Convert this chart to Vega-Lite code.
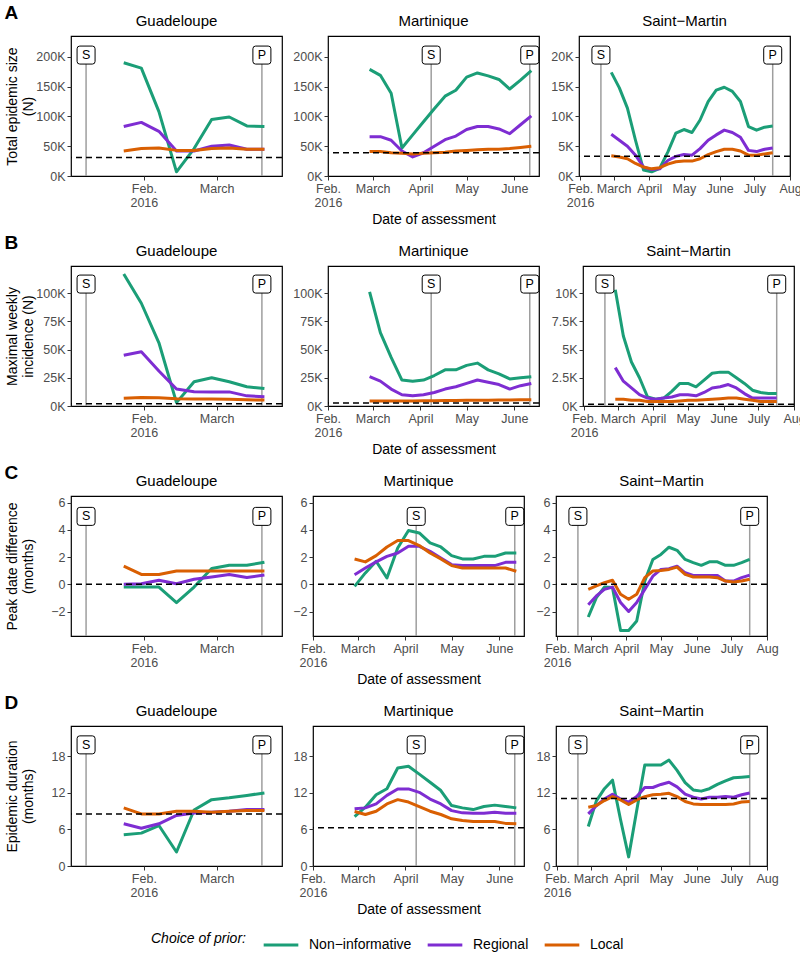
{
  "$schema": "https://vega.github.io/schema/vega-lite/v6.json",
  "padding": {"left": 4, "top": 4, "right": 0, "bottom": 38},
  "datasets": {
    "series": [
      {"m":"A","r":"G","d":"2016-01-24","N":190000,"R":83000,"L":42000},
      {"m":"A","r":"G","d":"2016-01-31","N":181000,"R":90000,"L":46000},
      {"m":"A","r":"G","d":"2016-02-07","N":108000,"R":75000,"L":47000},
      {"m":"A","r":"G","d":"2016-02-14","N":7000,"R":42000,"L":43000},
      {"m":"A","r":"G","d":"2016-02-21","N":46000,"R":42000,"L":43000},
      {"m":"A","r":"G","d":"2016-02-28","N":95000,"R":50000,"L":46000},
      {"m":"A","r":"G","d":"2016-03-06","N":99000,"R":52000,"L":47000},
      {"m":"A","r":"G","d":"2016-03-13","N":84000,"R":45000,"L":45000},
      {"m":"A","r":"G","d":"2016-03-20","N":83000,"R":45000,"L":45000},
      {"m":"A","r":"M","d":"2016-02-28","N":179000,"R":66000,"L":41000},
      {"m":"A","r":"M","d":"2016-03-06","N":169000,"R":66000,"L":41000},
      {"m":"A","r":"M","d":"2016-03-13","N":139000,"R":60000,"L":39000},
      {"m":"A","r":"M","d":"2016-03-20","N":47000,"R":42000,"L":38000},
      {"m":"A","r":"M","d":"2016-03-27","N":69000,"R":32000,"L":37000},
      {"m":"A","r":"M","d":"2016-04-03","N":91000,"R":39000,"L":38000},
      {"m":"A","r":"M","d":"2016-04-10","N":113000,"R":50000,"L":39000},
      {"m":"A","r":"M","d":"2016-04-17","N":134000,"R":61000,"L":40000},
      {"m":"A","r":"M","d":"2016-04-24","N":144000,"R":67000,"L":42000},
      {"m":"A","r":"M","d":"2016-05-01","N":166000,"R":78000,"L":43000},
      {"m":"A","r":"M","d":"2016-05-08","N":173000,"R":83000,"L":44000},
      {"m":"A","r":"M","d":"2016-05-15","N":168000,"R":83000,"L":45000},
      {"m":"A","r":"M","d":"2016-05-22","N":162000,"R":79000,"L":45000},
      {"m":"A","r":"M","d":"2016-05-29","N":146000,"R":71000,"L":46000},
      {"m":"A","r":"M","d":"2016-06-05","N":161000,"R":86000,"L":48000},
      {"m":"A","r":"M","d":"2016-06-12","N":177000,"R":101000,"L":50000},
      {"m":"A","r":"S","d":"2016-02-28","N":17400,"R":7000,"L":3400},
      {"m":"A","r":"S","d":"2016-03-06","N":14800,"R":6000,"L":3200},
      {"m":"A","r":"S","d":"2016-03-13","N":11400,"R":5000,"L":2900},
      {"m":"A","r":"S","d":"2016-03-20","N":6000,"R":3500,"L":2100},
      {"m":"A","r":"S","d":"2016-03-27","N":1000,"R":1500,"L":1500},
      {"m":"A","r":"S","d":"2016-04-03","N":700,"R":1100,"L":1200},
      {"m":"A","r":"S","d":"2016-04-10","N":1300,"R":1200,"L":1400},
      {"m":"A","r":"S","d":"2016-04-17","N":4000,"R":2600,"L":2000},
      {"m":"A","r":"S","d":"2016-04-24","N":7200,"R":3300,"L":2400},
      {"m":"A","r":"S","d":"2016-05-01","N":7800,"R":3600,"L":2500},
      {"m":"A","r":"S","d":"2016-05-08","N":7300,"R":3500,"L":2500},
      {"m":"A","r":"S","d":"2016-05-15","N":9400,"R":4600,"L":2900},
      {"m":"A","r":"S","d":"2016-05-22","N":12500,"R":6000,"L":3600},
      {"m":"A","r":"S","d":"2016-05-29","N":14400,"R":6900,"L":4100},
      {"m":"A","r":"S","d":"2016-06-05","N":14900,"R":7700,"L":4500},
      {"m":"A","r":"S","d":"2016-06-12","N":14200,"R":7300,"L":4500},
      {"m":"A","r":"S","d":"2016-06-19","N":12500,"R":6500,"L":4200},
      {"m":"A","r":"S","d":"2016-06-26","N":8300,"R":4300,"L":3500},
      {"m":"A","r":"S","d":"2016-07-03","N":7700,"R":4100,"L":3500},
      {"m":"A","r":"S","d":"2016-07-10","N":8200,"R":4500,"L":3700},
      {"m":"A","r":"S","d":"2016-07-17","N":8400,"R":4700,"L":3900},
      {"m":"B","r":"G","d":"2016-01-24","N":117000,"R":45000,"L":6800},
      {"m":"B","r":"G","d":"2016-01-31","N":91000,"R":48000,"L":7500},
      {"m":"B","r":"G","d":"2016-02-07","N":56000,"R":31000,"L":7200},
      {"m":"B","r":"G","d":"2016-02-14","N":3000,"R":15000,"L":6500},
      {"m":"B","r":"G","d":"2016-02-21","N":21500,"R":12700,"L":6200},
      {"m":"B","r":"G","d":"2016-02-28","N":25000,"R":12500,"L":6200},
      {"m":"B","r":"G","d":"2016-03-06","N":21500,"R":12500,"L":6000},
      {"m":"B","r":"G","d":"2016-03-13","N":17000,"R":9000,"L":5500},
      {"m":"B","r":"G","d":"2016-03-20","N":15500,"R":8300,"L":5300},
      {"m":"B","r":"M","d":"2016-02-28","N":101000,"R":26000,"L":4400},
      {"m":"B","r":"M","d":"2016-03-06","N":65000,"R":22000,"L":4400},
      {"m":"B","r":"M","d":"2016-03-13","N":43000,"R":15000,"L":4500},
      {"m":"B","r":"M","d":"2016-03-20","N":23000,"R":10000,"L":4500},
      {"m":"B","r":"M","d":"2016-03-27","N":22000,"R":9000,"L":4500},
      {"m":"B","r":"M","d":"2016-04-03","N":23000,"R":10000,"L":4600},
      {"m":"B","r":"M","d":"2016-04-10","N":27000,"R":12000,"L":4700},
      {"m":"B","r":"M","d":"2016-04-17","N":32000,"R":15000,"L":4800},
      {"m":"B","r":"M","d":"2016-04-24","N":32000,"R":17000,"L":4900},
      {"m":"B","r":"M","d":"2016-05-01","N":36000,"R":20000,"L":5000},
      {"m":"B","r":"M","d":"2016-05-08","N":38000,"R":23000,"L":5100},
      {"m":"B","r":"M","d":"2016-05-15","N":32000,"R":21000,"L":5200},
      {"m":"B","r":"M","d":"2016-05-22","N":28500,"R":19000,"L":5300},
      {"m":"B","r":"M","d":"2016-05-29","N":24000,"R":15000,"L":5400},
      {"m":"B","r":"M","d":"2016-06-05","N":25000,"R":18000,"L":5500},
      {"m":"B","r":"M","d":"2016-06-12","N":26000,"R":20000,"L":5600},
      {"m":"B","r":"S","d":"2016-02-28","N":10300,"R":3400,"L":600},
      {"m":"B","r":"S","d":"2016-03-06","N":6200,"R":2200,"L":600},
      {"m":"B","r":"S","d":"2016-03-13","N":3900,"R":1600,"L":500},
      {"m":"B","r":"S","d":"2016-03-20","N":2500,"R":1000,"L":500},
      {"m":"B","r":"S","d":"2016-03-27","N":800,"R":700,"L":400},
      {"m":"B","r":"S","d":"2016-04-03","N":600,"R":600,"L":400},
      {"m":"B","r":"S","d":"2016-04-10","N":700,"R":700,"L":400},
      {"m":"B","r":"S","d":"2016-04-17","N":1300,"R":800,"L":400},
      {"m":"B","r":"S","d":"2016-04-24","N":2000,"R":1000,"L":450},
      {"m":"B","r":"S","d":"2016-05-01","N":2000,"R":1000,"L":500},
      {"m":"B","r":"S","d":"2016-05-08","N":1700,"R":900,"L":500},
      {"m":"B","r":"S","d":"2016-05-15","N":2300,"R":1200,"L":550},
      {"m":"B","r":"S","d":"2016-05-22","N":2900,"R":1600,"L":600},
      {"m":"B","r":"S","d":"2016-05-29","N":3000,"R":1700,"L":650},
      {"m":"B","r":"S","d":"2016-06-05","N":3000,"R":1900,"L":700},
      {"m":"B","r":"S","d":"2016-06-12","N":2500,"R":1600,"L":700},
      {"m":"B","r":"S","d":"2016-06-19","N":2000,"R":1100,"L":600},
      {"m":"B","r":"S","d":"2016-06-26","N":1400,"R":700,"L":500},
      {"m":"B","r":"S","d":"2016-07-03","N":1200,"R":700,"L":400},
      {"m":"B","r":"S","d":"2016-07-10","N":1100,"R":700,"L":400},
      {"m":"B","r":"S","d":"2016-07-17","N":1100,"R":700,"L":400},
      {"m":"C","r":"G","d":"2016-01-24","N":-0.2,"R":0,"L":1.34},
      {"m":"C","r":"G","d":"2016-01-31","N":-0.2,"R":0.05,"L":0.73},
      {"m":"C","r":"G","d":"2016-02-07","N":-0.2,"R":0.3,"L":0.73},
      {"m":"C","r":"G","d":"2016-02-14","N":-1.35,"R":0.05,"L":0.98},
      {"m":"C","r":"G","d":"2016-02-21","N":-0.2,"R":0.37,"L":0.98},
      {"m":"C","r":"G","d":"2016-02-28","N":1.17,"R":0.54,"L":0.98},
      {"m":"C","r":"G","d":"2016-03-06","N":1.4,"R":0.73,"L":0.98},
      {"m":"C","r":"G","d":"2016-03-13","N":1.4,"R":0.5,"L":0.98},
      {"m":"C","r":"G","d":"2016-03-20","N":1.63,"R":0.68,"L":0.98},
      {"m":"C","r":"M","d":"2016-02-28","N":-0.15,"R":0.71,"L":1.87},
      {"m":"C","r":"M","d":"2016-03-06","N":0.84,"R":1.2,"L":1.65},
      {"m":"C","r":"M","d":"2016-03-13","N":1.7,"R":1.65,"L":2.11},
      {"m":"C","r":"M","d":"2016-03-20","N":0.47,"R":2.06,"L":2.75},
      {"m":"C","r":"M","d":"2016-03-27","N":2.68,"R":2.31,"L":3.22},
      {"m":"C","r":"M","d":"2016-04-03","N":3.96,"R":2.8,"L":3.22},
      {"m":"C","r":"M","d":"2016-04-10","N":3.78,"R":2.8,"L":2.85},
      {"m":"C","r":"M","d":"2016-04-17","N":3.05,"R":2.43,"L":2.31},
      {"m":"C","r":"M","d":"2016-04-24","N":2.75,"R":1.94,"L":1.87},
      {"m":"C","r":"M","d":"2016-05-01","N":2.11,"R":1.45,"L":1.38},
      {"m":"C","r":"M","d":"2016-05-08","N":1.87,"R":1.38,"L":1.2},
      {"m":"C","r":"M","d":"2016-05-15","N":1.87,"R":1.38,"L":1.2},
      {"m":"C","r":"M","d":"2016-05-22","N":2.06,"R":1.38,"L":1.2},
      {"m":"C","r":"M","d":"2016-05-29","N":2.06,"R":1.38,"L":1.2},
      {"m":"C","r":"M","d":"2016-06-05","N":2.31,"R":1.62,"L":1.2},
      {"m":"C","r":"M","d":"2016-06-12","N":2.31,"R":1.62,"L":0.96},
      {"m":"C","r":"S","d":"2016-02-28","N":-2.4,"R":-1.5,"L":-0.37},
      {"m":"C","r":"S","d":"2016-03-06","N":-0.98,"R":-0.85,"L":-0.12},
      {"m":"C","r":"S","d":"2016-03-13","N":-0.2,"R":-0.37,"L":0.12},
      {"m":"C","r":"S","d":"2016-03-20","N":-0.24,"R":-0.2,"L":0.3},
      {"m":"C","r":"S","d":"2016-03-27","N":-3.4,"R":-1.34,"L":-0.73},
      {"m":"C","r":"S","d":"2016-04-03","N":-3.4,"R":-2.0,"L":-1.1},
      {"m":"C","r":"S","d":"2016-04-10","N":-2.7,"R":-1.34,"L":-0.73},
      {"m":"C","r":"S","d":"2016-04-17","N":0.24,"R":-0.37,"L":0.49},
      {"m":"C","r":"S","d":"2016-04-24","N":1.83,"R":0.6,"L":0.98},
      {"m":"C","r":"S","d":"2016-05-01","N":2.2,"R":1.1,"L":1.02},
      {"m":"C","r":"S","d":"2016-05-08","N":2.73,"R":1.15,"L":1.1},
      {"m":"C","r":"S","d":"2016-05-15","N":2.5,"R":1.34,"L":1.27},
      {"m":"C","r":"S","d":"2016-05-22","N":1.83,"R":0.85,"L":0.73},
      {"m":"C","r":"S","d":"2016-05-29","N":1.6,"R":0.66,"L":0.54},
      {"m":"C","r":"S","d":"2016-06-05","N":1.4,"R":0.66,"L":0.54},
      {"m":"C","r":"S","d":"2016-06-12","N":1.66,"R":0.66,"L":0.54},
      {"m":"C","r":"S","d":"2016-06-19","N":1.66,"R":0.66,"L":0.49},
      {"m":"C","r":"S","d":"2016-06-26","N":1.4,"R":0.24,"L":0.24},
      {"m":"C","r":"S","d":"2016-07-03","N":1.4,"R":0.24,"L":0.17},
      {"m":"C","r":"S","d":"2016-07-10","N":1.6,"R":0.49,"L":0.24},
      {"m":"C","r":"S","d":"2016-07-17","N":1.83,"R":0.68,"L":0.37},
      {"m":"D","r":"G","d":"2016-01-24","N":5.13,"R":6.93,"L":9.55},
      {"m":"D","r":"G","d":"2016-01-31","N":5.4,"R":6.2,"L":8.56},
      {"m":"D","r":"G","d":"2016-02-07","N":6.65,"R":6.93,"L":8.56},
      {"m":"D","r":"G","d":"2016-02-14","N":2.3,"R":8.3,"L":9.0},
      {"m":"D","r":"G","d":"2016-02-21","N":9.2,"R":8.7,"L":9.0},
      {"m":"D","r":"G","d":"2016-02-28","N":10.9,"R":8.84,"L":8.84},
      {"m":"D","r":"G","d":"2016-03-06","N":11.2,"R":9.0,"L":9.0},
      {"m":"D","r":"G","d":"2016-03-13","N":11.6,"R":9.27,"L":9.1},
      {"m":"D","r":"G","d":"2016-03-20","N":12.0,"R":9.27,"L":9.1},
      {"m":"D","r":"M","d":"2016-02-28","N":8.13,"R":9.4,"L":8.95},
      {"m":"D","r":"M","d":"2016-03-06","N":9.66,"R":9.55,"L":8.46},
      {"m":"D","r":"M","d":"2016-03-13","N":11.7,"R":10.2,"L":9.0},
      {"m":"D","r":"M","d":"2016-03-20","N":12.7,"R":11.6,"L":10.2},
      {"m":"D","r":"M","d":"2016-03-27","N":16.1,"R":12.66,"L":10.9},
      {"m":"D","r":"M","d":"2016-04-03","N":16.4,"R":12.66,"L":10.5},
      {"m":"D","r":"M","d":"2016-04-10","N":15.1,"R":12.1,"L":9.77},
      {"m":"D","r":"M","d":"2016-04-17","N":13.75,"R":11.0,"L":9.0},
      {"m":"D","r":"M","d":"2016-04-24","N":12.4,"R":10.2,"L":8.46},
      {"m":"D","r":"M","d":"2016-05-01","N":9.93,"R":9.1,"L":7.75},
      {"m":"D","r":"M","d":"2016-05-08","N":9.55,"R":8.73,"L":7.47},
      {"m":"D","r":"M","d":"2016-05-15","N":9.27,"R":8.67,"L":7.3},
      {"m":"D","r":"M","d":"2016-05-22","N":9.77,"R":8.67,"L":7.3},
      {"m":"D","r":"M","d":"2016-05-29","N":10.0,"R":8.84,"L":7.3},
      {"m":"D","r":"M","d":"2016-06-05","N":9.77,"R":8.67,"L":7.0},
      {"m":"D","r":"M","d":"2016-06-12","N":9.55,"R":8.67,"L":6.93},
      {"m":"D","r":"S","d":"2016-02-28","N":6.5,"R":8.56,"L":9.66},
      {"m":"D","r":"S","d":"2016-03-06","N":10.7,"R":9.9,"L":9.93},
      {"m":"D","r":"S","d":"2016-03-13","N":12.7,"R":11.0,"L":10.75},
      {"m":"D","r":"S","d":"2016-03-20","N":14.1,"R":11.8,"L":11.4},
      {"m":"D","r":"S","d":"2016-03-27","N":7.6,"R":11.0,"L":10.85},
      {"m":"D","r":"S","d":"2016-04-03","N":1.5,"R":10.5,"L":10.1},
      {"m":"D","r":"S","d":"2016-04-10","N":9.1,"R":11.4,"L":10.85},
      {"m":"D","r":"S","d":"2016-04-17","N":16.6,"R":12.9,"L":11.4},
      {"m":"D","r":"S","d":"2016-04-24","N":16.6,"R":12.9,"L":11.7},
      {"m":"D","r":"S","d":"2016-05-01","N":16.6,"R":13.4,"L":11.8},
      {"m":"D","r":"S","d":"2016-05-08","N":17.4,"R":13.75,"L":11.95},
      {"m":"D","r":"S","d":"2016-05-15","N":15.7,"R":13.0,"L":11.4},
      {"m":"D","r":"S","d":"2016-05-22","N":13.7,"R":11.8,"L":10.6},
      {"m":"D","r":"S","d":"2016-05-29","N":12.5,"R":11.3,"L":10.2},
      {"m":"D","r":"S","d":"2016-06-05","N":12.3,"R":11.0,"L":10.1},
      {"m":"D","r":"S","d":"2016-06-12","N":12.7,"R":11.3,"L":10.1},
      {"m":"D","r":"S","d":"2016-06-19","N":13.4,"R":11.3,"L":10.1},
      {"m":"D","r":"S","d":"2016-06-26","N":14.0,"R":11.4,"L":10.1},
      {"m":"D","r":"S","d":"2016-07-03","N":14.5,"R":11.3,"L":10.2},
      {"m":"D","r":"S","d":"2016-07-10","N":14.6,"R":11.7,"L":10.5},
      {"m":"D","r":"S","d":"2016-07-17","N":14.7,"R":12.0,"L":10.6}
    ],
    "refs": [
      {"m":"A","r":"G","v":31000},{"m":"A","r":"M","v":39000},{"m":"A","r":"S","v":3300},
      {"m":"B","r":"G","v":2000},{"m":"B","r":"M","v":2600},{"m":"B","r":"S","v":150},
      {"m":"C","r":"G","v":0},{"m":"C","r":"M","v":0},{"m":"C","r":"S","v":0},
      {"m":"D","r":"G","v":8.56},{"m":"D","r":"M","v":6.27},{"m":"D","r":"S","v":11.1}
    ],
    "events": [
      {"r":"G","label":"S","d":"2016-01-09"},{"r":"G","label":"P","d":"2016-03-19"},
      {"r":"M","label":"S","d":"2016-04-08"},{"r":"M","label":"P","d":"2016-06-11"},
      {"r":"S","label":"S","d":"2016-02-19"},{"r":"S","label":"P","d":"2016-07-17"}
    ]
  },
  "spacing": 6,
  "vconcat": [
    {
      "title": {"text": "A", "anchor": "start", "frame": "bounds", "fontSize": 19, "fontWeight": "bold", "offset": -10},
      "spacing": 8,
      "hconcat": [
        {"title": "Guadeloupe", "width": 211, "height": 140, "layer": [
          {"data": {"name": "events"}, "transform": [{"filter": "datum.r=='G'"}], "mark": {"type": "rule", "color": "#9e9e9e", "strokeWidth": 1.5}, "encoding": {
            "x": {"field": "d", "type": "temporal", "scale": {"domain": [{"year":2016,"month":1,"date":3},{"year":2016,"month":3,"date":27}], "nice": false}, "axis": {"values": [{"year":2016,"month":2,"date":1},{"year":2016,"month":3,"date":1}], "tickCount": 12, "labelOverlap": false, "labelExpr": "month(datum.value)==1?['Feb.','2016']:month(datum.value)==7?'Aug':timeFormat(datum.value,'%B')", "title": null}},
            "y": {"datum": 203000, "type": "quantitative", "scale": {"domain": [0,235000], "nice": false, "zero": false}, "axis": {"values": [0,50000,100000,150000,200000], "tickCount": 12, "labelOverlap": false, "labelExpr": "format(datum.value/1000,'~g')+'K'", "title": ["Total epidemic size","(N)"]}},
            "y2": {"datum": 0}}},
          {"data": {"name": "series"}, "transform": [{"filter": "datum.m=='A'&&datum.r=='G'"}, {"fold": ["N","R","L"], "as": ["prior","value"]}], "mark": {"type": "line", "strokeWidth": 3, "strokeJoin": "round"}, "encoding": {
            "x": {"field": "d", "type": "temporal"},
            "y": {"field": "value", "type": "quantitative"},
            "color": {"field": "prior", "type": "nominal", "scale": {"domain": ["N","R","L"], "range": ["#1b9e77","#7e2dd2","#d95f02"]}, "legend": {"title": "Choice of prior:", "orient": "none", "legendX": 80, "legendY": 890, "labelExpr": "datum.label=='N'?'Non−informative':datum.label=='R'?'Regional':'Local'"}}}},
          {"data": {"name": "refs"}, "transform": [{"filter": "datum.m=='A'&&datum.r=='G'"}], "mark": {"type": "rule", "color": "black", "strokeWidth": 1.5, "strokeDash": [6,4]}, "encoding": {"y": {"field": "v", "type": "quantitative"}}},
          {"data": {"name": "events"}, "transform": [{"filter": "datum.r=='G'"}], "mark": {"type": "point", "shape": "M-1,-0.7Q-1,-1 -0.7,-1L0.7,-1Q1,-1 1,-0.7L1,0.7Q1,1 0.7,1L-0.7,1Q-1,1 -1,0.7Z", "size": 324, "filled": true, "fill": "white", "stroke": "black", "strokeWidth": 1, "opacity": 1}, "encoding": {"x": {"field": "d", "type": "temporal"}, "y": {"datum": 203000}}},
          {"data": {"name": "events"}, "transform": [{"filter": "datum.r=='G'"}], "mark": {"type": "text", "fontSize": 12.5, "color": "black"}, "encoding": {"x": {"field": "d", "type": "temporal"}, "y": {"datum": 203000}, "text": {"field": "label"}}}
        ]},
        {"title": "Martinique", "width": 211, "height": 140, "layer": [
          {"data": {"name": "events"}, "transform": [{"filter": "datum.r=='M'"}], "mark": {"type": "rule", "color": "#9e9e9e", "strokeWidth": 1.5}, "encoding": {
            "x": {"field": "d", "type": "temporal", "scale": {"domain": [{"year":2016,"month":2,"date":1},{"year":2016,"month":6,"date":17}], "nice": false}, "axis": {"values": [{"year":2016,"month":2,"date":1},{"year":2016,"month":3,"date":1},{"year":2016,"month":4,"date":1},{"year":2016,"month":5,"date":1},{"year":2016,"month":6,"date":1}], "tickCount": 12, "labelOverlap": false, "labelExpr": "month(datum.value)==1?['Feb.','2016']:month(datum.value)==7?'Aug':timeFormat(datum.value,'%B')", "title": "Date of assessment"}},
            "y": {"datum": 203000, "type": "quantitative", "scale": {"domain": [0,235000], "nice": false, "zero": false}, "axis": {"values": [0,50000,100000,150000,200000], "tickCount": 12, "labelOverlap": false, "labelExpr": "format(datum.value/1000,'~g')+'K'", "title": null}},
            "y2": {"datum": 0}}},
          {"data": {"name": "series"}, "transform": [{"filter": "datum.m=='A'&&datum.r=='M'"}, {"fold": ["N","R","L"], "as": ["prior","value"]}], "mark": {"type": "line", "strokeWidth": 3, "strokeJoin": "round"}, "encoding": {
            "x": {"field": "d", "type": "temporal"},
            "y": {"field": "value", "type": "quantitative"},
            "color": {"field": "prior", "type": "nominal", "scale": {"domain": ["N","R","L"], "range": ["#1b9e77","#7e2dd2","#d95f02"]}, "legend": {"title": "Choice of prior:", "orient": "none", "legendX": 80, "legendY": 890, "labelExpr": "datum.label=='N'?'Non−informative':datum.label=='R'?'Regional':'Local'"}}}},
          {"data": {"name": "refs"}, "transform": [{"filter": "datum.m=='A'&&datum.r=='M'"}], "mark": {"type": "rule", "color": "black", "strokeWidth": 1.5, "strokeDash": [6,4]}, "encoding": {"y": {"field": "v", "type": "quantitative"}}},
          {"data": {"name": "events"}, "transform": [{"filter": "datum.r=='M'"}], "mark": {"type": "point", "shape": "M-1,-0.7Q-1,-1 -0.7,-1L0.7,-1Q1,-1 1,-0.7L1,0.7Q1,1 0.7,1L-0.7,1Q-1,1 -1,0.7Z", "size": 324, "filled": true, "fill": "white", "stroke": "black", "strokeWidth": 1, "opacity": 1}, "encoding": {"x": {"field": "d", "type": "temporal"}, "y": {"datum": 203000}}},
          {"data": {"name": "events"}, "transform": [{"filter": "datum.r=='M'"}], "mark": {"type": "text", "fontSize": 12.5, "color": "black"}, "encoding": {"x": {"field": "d", "type": "temporal"}, "y": {"datum": 203000}, "text": {"field": "label"}}}
        ]},
        {"title": "Saint−Martin", "width": 211, "height": 140, "layer": [
          {"data": {"name": "events"}, "transform": [{"filter": "datum.r=='S'"}], "mark": {"type": "rule", "color": "#9e9e9e", "strokeWidth": 1.5}, "encoding": {
            "x": {"field": "d", "type": "temporal", "scale": {"domain": [{"year":2016,"month":1,"date":31},{"year":2016,"month":8,"date":1}], "nice": false}, "axis": {"values": [{"year":2016,"month":2,"date":1},{"year":2016,"month":3,"date":1},{"year":2016,"month":4,"date":1},{"year":2016,"month":5,"date":1},{"year":2016,"month":6,"date":1},{"year":2016,"month":7,"date":1},{"year":2016,"month":8,"date":1}], "tickCount": 12, "labelOverlap": false, "labelExpr": "month(datum.value)==1?['Feb.','2016']:month(datum.value)==7?'Aug':timeFormat(datum.value,'%B')", "title": null}},
            "y": {"datum": 20300, "type": "quantitative", "scale": {"domain": [0,23500], "nice": false, "zero": false}, "axis": {"values": [0,5000,10000,15000,20000], "tickCount": 12, "labelOverlap": false, "labelExpr": "format(datum.value/1000,'~g')+'K'", "title": null}},
            "y2": {"datum": 0}}},
          {"data": {"name": "series"}, "transform": [{"filter": "datum.m=='A'&&datum.r=='S'"}, {"fold": ["N","R","L"], "as": ["prior","value"]}], "mark": {"type": "line", "strokeWidth": 3, "strokeJoin": "round"}, "encoding": {
            "x": {"field": "d", "type": "temporal"},
            "y": {"field": "value", "type": "quantitative"},
            "color": {"field": "prior", "type": "nominal", "scale": {"domain": ["N","R","L"], "range": ["#1b9e77","#7e2dd2","#d95f02"]}, "legend": {"title": "Choice of prior:", "orient": "none", "legendX": 80, "legendY": 890, "labelExpr": "datum.label=='N'?'Non−informative':datum.label=='R'?'Regional':'Local'"}}}},
          {"data": {"name": "refs"}, "transform": [{"filter": "datum.m=='A'&&datum.r=='S'"}], "mark": {"type": "rule", "color": "black", "strokeWidth": 1.5, "strokeDash": [6,4]}, "encoding": {"y": {"field": "v", "type": "quantitative"}}},
          {"data": {"name": "events"}, "transform": [{"filter": "datum.r=='S'"}], "mark": {"type": "point", "shape": "M-1,-0.7Q-1,-1 -0.7,-1L0.7,-1Q1,-1 1,-0.7L1,0.7Q1,1 0.7,1L-0.7,1Q-1,1 -1,0.7Z", "size": 324, "filled": true, "fill": "white", "stroke": "black", "strokeWidth": 1, "opacity": 1}, "encoding": {"x": {"field": "d", "type": "temporal"}, "y": {"datum": 20300}}},
          {"data": {"name": "events"}, "transform": [{"filter": "datum.r=='S'"}], "mark": {"type": "text", "fontSize": 12.5, "color": "black"}, "encoding": {"x": {"field": "d", "type": "temporal"}, "y": {"datum": 20300}, "text": {"field": "label"}}}
        ]}
      ]
    },
    {
      "title": {"text": "B", "anchor": "start", "frame": "bounds", "fontSize": 19, "fontWeight": "bold", "offset": -10},
      "spacing": 8,
      "hconcat": [
        {"title": "Guadeloupe", "width": 211, "height": 140, "layer": [
          {"data": {"name": "events"}, "transform": [{"filter": "datum.r=='G'"}], "mark": {"type": "rule", "color": "#9e9e9e", "strokeWidth": 1.5}, "encoding": {
            "x": {"field": "d", "type": "temporal", "scale": {"domain": [{"year":2016,"month":1,"date":3},{"year":2016,"month":3,"date":27}], "nice": false}, "axis": {"values": [{"year":2016,"month":2,"date":1},{"year":2016,"month":3,"date":1}], "tickCount": 12, "labelOverlap": false, "labelExpr": "month(datum.value)==1?['Feb.','2016']:month(datum.value)==7?'Aug':timeFormat(datum.value,'%B')", "title": null}},
            "y": {"datum": 108000, "type": "quantitative", "scale": {"domain": [0,124000], "nice": false, "zero": false}, "axis": {"values": [0,25000,50000,75000,100000], "tickCount": 12, "labelOverlap": false, "labelExpr": "format(datum.value/1000,'~g')+'K'", "title": ["Maximal weekly","incidence (N)"]}},
            "y2": {"datum": 0}}},
          {"data": {"name": "series"}, "transform": [{"filter": "datum.m=='B'&&datum.r=='G'"}, {"fold": ["N","R","L"], "as": ["prior","value"]}], "mark": {"type": "line", "strokeWidth": 3, "strokeJoin": "round"}, "encoding": {
            "x": {"field": "d", "type": "temporal"},
            "y": {"field": "value", "type": "quantitative"},
            "color": {"field": "prior", "type": "nominal", "scale": {"domain": ["N","R","L"], "range": ["#1b9e77","#7e2dd2","#d95f02"]}, "legend": {"title": "Choice of prior:", "orient": "none", "legendX": 80, "legendY": 890, "labelExpr": "datum.label=='N'?'Non−informative':datum.label=='R'?'Regional':'Local'"}}}},
          {"data": {"name": "refs"}, "transform": [{"filter": "datum.m=='B'&&datum.r=='G'"}], "mark": {"type": "rule", "color": "black", "strokeWidth": 1.5, "strokeDash": [6,4]}, "encoding": {"y": {"field": "v", "type": "quantitative"}}},
          {"data": {"name": "events"}, "transform": [{"filter": "datum.r=='G'"}], "mark": {"type": "point", "shape": "M-1,-0.7Q-1,-1 -0.7,-1L0.7,-1Q1,-1 1,-0.7L1,0.7Q1,1 0.7,1L-0.7,1Q-1,1 -1,0.7Z", "size": 324, "filled": true, "fill": "white", "stroke": "black", "strokeWidth": 1, "opacity": 1}, "encoding": {"x": {"field": "d", "type": "temporal"}, "y": {"datum": 108000}}},
          {"data": {"name": "events"}, "transform": [{"filter": "datum.r=='G'"}], "mark": {"type": "text", "fontSize": 12.5, "color": "black"}, "encoding": {"x": {"field": "d", "type": "temporal"}, "y": {"datum": 108000}, "text": {"field": "label"}}}
        ]},
        {"title": "Martinique", "width": 211, "height": 140, "layer": [
          {"data": {"name": "events"}, "transform": [{"filter": "datum.r=='M'"}], "mark": {"type": "rule", "color": "#9e9e9e", "strokeWidth": 1.5}, "encoding": {
            "x": {"field": "d", "type": "temporal", "scale": {"domain": [{"year":2016,"month":2,"date":1},{"year":2016,"month":6,"date":17}], "nice": false}, "axis": {"values": [{"year":2016,"month":2,"date":1},{"year":2016,"month":3,"date":1},{"year":2016,"month":4,"date":1},{"year":2016,"month":5,"date":1},{"year":2016,"month":6,"date":1}], "tickCount": 12, "labelOverlap": false, "labelExpr": "month(datum.value)==1?['Feb.','2016']:month(datum.value)==7?'Aug':timeFormat(datum.value,'%B')", "title": "Date of assessment"}},
            "y": {"datum": 108000, "type": "quantitative", "scale": {"domain": [0,124000], "nice": false, "zero": false}, "axis": {"values": [0,25000,50000,75000,100000], "tickCount": 12, "labelOverlap": false, "labelExpr": "format(datum.value/1000,'~g')+'K'", "title": null}},
            "y2": {"datum": 0}}},
          {"data": {"name": "series"}, "transform": [{"filter": "datum.m=='B'&&datum.r=='M'"}, {"fold": ["N","R","L"], "as": ["prior","value"]}], "mark": {"type": "line", "strokeWidth": 3, "strokeJoin": "round"}, "encoding": {
            "x": {"field": "d", "type": "temporal"},
            "y": {"field": "value", "type": "quantitative"},
            "color": {"field": "prior", "type": "nominal", "scale": {"domain": ["N","R","L"], "range": ["#1b9e77","#7e2dd2","#d95f02"]}, "legend": {"title": "Choice of prior:", "orient": "none", "legendX": 80, "legendY": 890, "labelExpr": "datum.label=='N'?'Non−informative':datum.label=='R'?'Regional':'Local'"}}}},
          {"data": {"name": "refs"}, "transform": [{"filter": "datum.m=='B'&&datum.r=='M'"}], "mark": {"type": "rule", "color": "black", "strokeWidth": 1.5, "strokeDash": [6,4]}, "encoding": {"y": {"field": "v", "type": "quantitative"}}},
          {"data": {"name": "events"}, "transform": [{"filter": "datum.r=='M'"}], "mark": {"type": "point", "shape": "M-1,-0.7Q-1,-1 -0.7,-1L0.7,-1Q1,-1 1,-0.7L1,0.7Q1,1 0.7,1L-0.7,1Q-1,1 -1,0.7Z", "size": 324, "filled": true, "fill": "white", "stroke": "black", "strokeWidth": 1, "opacity": 1}, "encoding": {"x": {"field": "d", "type": "temporal"}, "y": {"datum": 108000}}},
          {"data": {"name": "events"}, "transform": [{"filter": "datum.r=='M'"}], "mark": {"type": "text", "fontSize": 12.5, "color": "black"}, "encoding": {"x": {"field": "d", "type": "temporal"}, "y": {"datum": 108000}, "text": {"field": "label"}}}
        ]},
        {"title": "Saint−Martin", "width": 211, "height": 140, "layer": [
          {"data": {"name": "events"}, "transform": [{"filter": "datum.r=='S'"}], "mark": {"type": "rule", "color": "#9e9e9e", "strokeWidth": 1.5}, "encoding": {
            "x": {"field": "d", "type": "temporal", "scale": {"domain": [{"year":2016,"month":1,"date":31},{"year":2016,"month":8,"date":1}], "nice": false}, "axis": {"values": [{"year":2016,"month":2,"date":1},{"year":2016,"month":3,"date":1},{"year":2016,"month":4,"date":1},{"year":2016,"month":5,"date":1},{"year":2016,"month":6,"date":1},{"year":2016,"month":7,"date":1},{"year":2016,"month":8,"date":1}], "tickCount": 12, "labelOverlap": false, "labelExpr": "month(datum.value)==1?['Feb.','2016']:month(datum.value)==7?'Aug':timeFormat(datum.value,'%B')", "title": null}},
            "y": {"datum": 10800, "type": "quantitative", "scale": {"domain": [0,12400], "nice": false, "zero": false}, "axis": {"values": [0,2500,5000,7500,10000], "tickCount": 12, "labelOverlap": false, "labelExpr": "format(datum.value/1000,'~g')+'K'", "title": null}},
            "y2": {"datum": 0}}},
          {"data": {"name": "series"}, "transform": [{"filter": "datum.m=='B'&&datum.r=='S'"}, {"fold": ["N","R","L"], "as": ["prior","value"]}], "mark": {"type": "line", "strokeWidth": 3, "strokeJoin": "round"}, "encoding": {
            "x": {"field": "d", "type": "temporal"},
            "y": {"field": "value", "type": "quantitative"},
            "color": {"field": "prior", "type": "nominal", "scale": {"domain": ["N","R","L"], "range": ["#1b9e77","#7e2dd2","#d95f02"]}, "legend": {"title": "Choice of prior:", "orient": "none", "legendX": 80, "legendY": 890, "labelExpr": "datum.label=='N'?'Non−informative':datum.label=='R'?'Regional':'Local'"}}}},
          {"data": {"name": "refs"}, "transform": [{"filter": "datum.m=='B'&&datum.r=='S'"}], "mark": {"type": "rule", "color": "black", "strokeWidth": 1.5, "strokeDash": [6,4]}, "encoding": {"y": {"field": "v", "type": "quantitative"}}},
          {"data": {"name": "events"}, "transform": [{"filter": "datum.r=='S'"}], "mark": {"type": "point", "shape": "M-1,-0.7Q-1,-1 -0.7,-1L0.7,-1Q1,-1 1,-0.7L1,0.7Q1,1 0.7,1L-0.7,1Q-1,1 -1,0.7Z", "size": 324, "filled": true, "fill": "white", "stroke": "black", "strokeWidth": 1, "opacity": 1}, "encoding": {"x": {"field": "d", "type": "temporal"}, "y": {"datum": 10800}}},
          {"data": {"name": "events"}, "transform": [{"filter": "datum.r=='S'"}], "mark": {"type": "text", "fontSize": 12.5, "color": "black"}, "encoding": {"x": {"field": "d", "type": "temporal"}, "y": {"datum": 10800}, "text": {"field": "label"}}}
        ]}
      ]
    },
    {
      "title": {"text": "C", "anchor": "start", "frame": "bounds", "fontSize": 19, "fontWeight": "bold", "offset": -10},
      "spacing": 8,
      "hconcat": [
        {"title": "Guadeloupe", "width": 211, "height": 140, "layer": [
          {"data": {"name": "events"}, "transform": [{"filter": "datum.r=='G'"}], "mark": {"type": "rule", "color": "#9e9e9e", "strokeWidth": 1.5}, "encoding": {
            "x": {"field": "d", "type": "temporal", "scale": {"domain": [{"year":2016,"month":1,"date":3},{"year":2016,"month":3,"date":27}], "nice": false}, "axis": {"values": [{"year":2016,"month":2,"date":1},{"year":2016,"month":3,"date":1}], "tickCount": 12, "labelOverlap": false, "labelExpr": "month(datum.value)==1?['Feb.','2016']:month(datum.value)==7?'Aug':timeFormat(datum.value,'%B')", "title": null}},
            "y": {"datum": 5.0, "type": "quantitative", "scale": {"domain": [-3.8,6.5], "nice": false, "zero": false}, "axis": {"values": [-2,0,2,4,6], "tickCount": 12, "labelOverlap": false, "title": ["Peak date difference","(months)"]}},
            "y2": {"datum": -3.8}}},
          {"data": {"name": "series"}, "transform": [{"filter": "datum.m=='C'&&datum.r=='G'"}, {"fold": ["N","R","L"], "as": ["prior","value"]}], "mark": {"type": "line", "strokeWidth": 3, "strokeJoin": "round"}, "encoding": {
            "x": {"field": "d", "type": "temporal"},
            "y": {"field": "value", "type": "quantitative"},
            "color": {"field": "prior", "type": "nominal", "scale": {"domain": ["N","R","L"], "range": ["#1b9e77","#7e2dd2","#d95f02"]}, "legend": {"title": "Choice of prior:", "orient": "none", "legendX": 80, "legendY": 890, "labelExpr": "datum.label=='N'?'Non−informative':datum.label=='R'?'Regional':'Local'"}}}},
          {"data": {"name": "refs"}, "transform": [{"filter": "datum.m=='C'&&datum.r=='G'"}], "mark": {"type": "rule", "color": "black", "strokeWidth": 1.5, "strokeDash": [6,4]}, "encoding": {"y": {"field": "v", "type": "quantitative"}}},
          {"data": {"name": "events"}, "transform": [{"filter": "datum.r=='G'"}], "mark": {"type": "point", "shape": "M-1,-0.7Q-1,-1 -0.7,-1L0.7,-1Q1,-1 1,-0.7L1,0.7Q1,1 0.7,1L-0.7,1Q-1,1 -1,0.7Z", "size": 324, "filled": true, "fill": "white", "stroke": "black", "strokeWidth": 1, "opacity": 1}, "encoding": {"x": {"field": "d", "type": "temporal"}, "y": {"datum": 5.0}}},
          {"data": {"name": "events"}, "transform": [{"filter": "datum.r=='G'"}], "mark": {"type": "text", "fontSize": 12.5, "color": "black"}, "encoding": {"x": {"field": "d", "type": "temporal"}, "y": {"datum": 5.0}, "text": {"field": "label"}}}
        ]},
        {"title": "Martinique", "width": 211, "height": 140, "layer": [
          {"data": {"name": "events"}, "transform": [{"filter": "datum.r=='M'"}], "mark": {"type": "rule", "color": "#9e9e9e", "strokeWidth": 1.5}, "encoding": {
            "x": {"field": "d", "type": "temporal", "scale": {"domain": [{"year":2016,"month":2,"date":1},{"year":2016,"month":6,"date":17}], "nice": false}, "axis": {"values": [{"year":2016,"month":2,"date":1},{"year":2016,"month":3,"date":1},{"year":2016,"month":4,"date":1},{"year":2016,"month":5,"date":1},{"year":2016,"month":6,"date":1}], "tickCount": 12, "labelOverlap": false, "labelExpr": "month(datum.value)==1?['Feb.','2016']:month(datum.value)==7?'Aug':timeFormat(datum.value,'%B')", "title": "Date of assessment"}},
            "y": {"datum": 5.0, "type": "quantitative", "scale": {"domain": [-3.8,6.5], "nice": false, "zero": false}, "axis": {"values": [-2,0,2,4,6], "tickCount": 12, "labelOverlap": false, "title": null}},
            "y2": {"datum": -3.8}}},
          {"data": {"name": "series"}, "transform": [{"filter": "datum.m=='C'&&datum.r=='M'"}, {"fold": ["N","R","L"], "as": ["prior","value"]}], "mark": {"type": "line", "strokeWidth": 3, "strokeJoin": "round"}, "encoding": {
            "x": {"field": "d", "type": "temporal"},
            "y": {"field": "value", "type": "quantitative"},
            "color": {"field": "prior", "type": "nominal", "scale": {"domain": ["N","R","L"], "range": ["#1b9e77","#7e2dd2","#d95f02"]}, "legend": {"title": "Choice of prior:", "orient": "none", "legendX": 80, "legendY": 890, "labelExpr": "datum.label=='N'?'Non−informative':datum.label=='R'?'Regional':'Local'"}}}},
          {"data": {"name": "refs"}, "transform": [{"filter": "datum.m=='C'&&datum.r=='M'"}], "mark": {"type": "rule", "color": "black", "strokeWidth": 1.5, "strokeDash": [6,4]}, "encoding": {"y": {"field": "v", "type": "quantitative"}}},
          {"data": {"name": "events"}, "transform": [{"filter": "datum.r=='M'"}], "mark": {"type": "point", "shape": "M-1,-0.7Q-1,-1 -0.7,-1L0.7,-1Q1,-1 1,-0.7L1,0.7Q1,1 0.7,1L-0.7,1Q-1,1 -1,0.7Z", "size": 324, "filled": true, "fill": "white", "stroke": "black", "strokeWidth": 1, "opacity": 1}, "encoding": {"x": {"field": "d", "type": "temporal"}, "y": {"datum": 5.0}}},
          {"data": {"name": "events"}, "transform": [{"filter": "datum.r=='M'"}], "mark": {"type": "text", "fontSize": 12.5, "color": "black"}, "encoding": {"x": {"field": "d", "type": "temporal"}, "y": {"datum": 5.0}, "text": {"field": "label"}}}
        ]},
        {"title": "Saint−Martin", "width": 211, "height": 140, "layer": [
          {"data": {"name": "events"}, "transform": [{"filter": "datum.r=='S'"}], "mark": {"type": "rule", "color": "#9e9e9e", "strokeWidth": 1.5}, "encoding": {
            "x": {"field": "d", "type": "temporal", "scale": {"domain": [{"year":2016,"month":1,"date":31},{"year":2016,"month":8,"date":1}], "nice": false}, "axis": {"values": [{"year":2016,"month":2,"date":1},{"year":2016,"month":3,"date":1},{"year":2016,"month":4,"date":1},{"year":2016,"month":5,"date":1},{"year":2016,"month":6,"date":1},{"year":2016,"month":7,"date":1},{"year":2016,"month":8,"date":1}], "tickCount": 12, "labelOverlap": false, "labelExpr": "month(datum.value)==1?['Feb.','2016']:month(datum.value)==7?'Aug':timeFormat(datum.value,'%B')", "title": null}},
            "y": {"datum": 5.0, "type": "quantitative", "scale": {"domain": [-3.8,6.5], "nice": false, "zero": false}, "axis": {"values": [-2,0,2,4,6], "tickCount": 12, "labelOverlap": false, "title": null}},
            "y2": {"datum": -3.8}}},
          {"data": {"name": "series"}, "transform": [{"filter": "datum.m=='C'&&datum.r=='S'"}, {"fold": ["N","R","L"], "as": ["prior","value"]}], "mark": {"type": "line", "strokeWidth": 3, "strokeJoin": "round"}, "encoding": {
            "x": {"field": "d", "type": "temporal"},
            "y": {"field": "value", "type": "quantitative"},
            "color": {"field": "prior", "type": "nominal", "scale": {"domain": ["N","R","L"], "range": ["#1b9e77","#7e2dd2","#d95f02"]}, "legend": {"title": "Choice of prior:", "orient": "none", "legendX": 80, "legendY": 890, "labelExpr": "datum.label=='N'?'Non−informative':datum.label=='R'?'Regional':'Local'"}}}},
          {"data": {"name": "refs"}, "transform": [{"filter": "datum.m=='C'&&datum.r=='S'"}], "mark": {"type": "rule", "color": "black", "strokeWidth": 1.5, "strokeDash": [6,4]}, "encoding": {"y": {"field": "v", "type": "quantitative"}}},
          {"data": {"name": "events"}, "transform": [{"filter": "datum.r=='S'"}], "mark": {"type": "point", "shape": "M-1,-0.7Q-1,-1 -0.7,-1L0.7,-1Q1,-1 1,-0.7L1,0.7Q1,1 0.7,1L-0.7,1Q-1,1 -1,0.7Z", "size": 324, "filled": true, "fill": "white", "stroke": "black", "strokeWidth": 1, "opacity": 1}, "encoding": {"x": {"field": "d", "type": "temporal"}, "y": {"datum": 5.0}}},
          {"data": {"name": "events"}, "transform": [{"filter": "datum.r=='S'"}], "mark": {"type": "text", "fontSize": 12.5, "color": "black"}, "encoding": {"x": {"field": "d", "type": "temporal"}, "y": {"datum": 5.0}, "text": {"field": "label"}}}
        ]}
      ]
    },
    {
      "title": {"text": "D", "anchor": "start", "frame": "bounds", "fontSize": 19, "fontWeight": "bold", "offset": -10},
      "spacing": 8,
      "hconcat": [
        {"title": "Guadeloupe", "width": 211, "height": 140, "layer": [
          {"data": {"name": "events"}, "transform": [{"filter": "datum.r=='G'"}], "mark": {"type": "rule", "color": "#9e9e9e", "strokeWidth": 1.5}, "encoding": {
            "x": {"field": "d", "type": "temporal", "scale": {"domain": [{"year":2016,"month":1,"date":3},{"year":2016,"month":3,"date":27}], "nice": false}, "axis": {"values": [{"year":2016,"month":2,"date":1},{"year":2016,"month":3,"date":1}], "tickCount": 12, "labelOverlap": false, "labelExpr": "month(datum.value)==1?['Feb.','2016']:month(datum.value)==7?'Aug':timeFormat(datum.value,'%B')", "title": null}},
            "y": {"datum": 19.9, "type": "quantitative", "scale": {"domain": [0,23], "nice": false, "zero": false}, "axis": {"values": [0,6,12,18], "tickCount": 12, "labelOverlap": false, "title": ["Epidemic duration","(months)"]}},
            "y2": {"datum": 0}}},
          {"data": {"name": "series"}, "transform": [{"filter": "datum.m=='D'&&datum.r=='G'"}, {"fold": ["N","R","L"], "as": ["prior","value"]}], "mark": {"type": "line", "strokeWidth": 3, "strokeJoin": "round"}, "encoding": {
            "x": {"field": "d", "type": "temporal"},
            "y": {"field": "value", "type": "quantitative"},
            "color": {"field": "prior", "type": "nominal", "scale": {"domain": ["N","R","L"], "range": ["#1b9e77","#7e2dd2","#d95f02"]}, "legend": {"title": "Choice of prior:", "orient": "none", "legendX": 80, "legendY": 890, "labelExpr": "datum.label=='N'?'Non−informative':datum.label=='R'?'Regional':'Local'"}}}},
          {"data": {"name": "refs"}, "transform": [{"filter": "datum.m=='D'&&datum.r=='G'"}], "mark": {"type": "rule", "color": "black", "strokeWidth": 1.5, "strokeDash": [6,4]}, "encoding": {"y": {"field": "v", "type": "quantitative"}}},
          {"data": {"name": "events"}, "transform": [{"filter": "datum.r=='G'"}], "mark": {"type": "point", "shape": "M-1,-0.7Q-1,-1 -0.7,-1L0.7,-1Q1,-1 1,-0.7L1,0.7Q1,1 0.7,1L-0.7,1Q-1,1 -1,0.7Z", "size": 324, "filled": true, "fill": "white", "stroke": "black", "strokeWidth": 1, "opacity": 1}, "encoding": {"x": {"field": "d", "type": "temporal"}, "y": {"datum": 19.9}}},
          {"data": {"name": "events"}, "transform": [{"filter": "datum.r=='G'"}], "mark": {"type": "text", "fontSize": 12.5, "color": "black"}, "encoding": {"x": {"field": "d", "type": "temporal"}, "y": {"datum": 19.9}, "text": {"field": "label"}}}
        ]},
        {"title": "Martinique", "width": 211, "height": 140, "layer": [
          {"data": {"name": "events"}, "transform": [{"filter": "datum.r=='M'"}], "mark": {"type": "rule", "color": "#9e9e9e", "strokeWidth": 1.5}, "encoding": {
            "x": {"field": "d", "type": "temporal", "scale": {"domain": [{"year":2016,"month":2,"date":1},{"year":2016,"month":6,"date":17}], "nice": false}, "axis": {"values": [{"year":2016,"month":2,"date":1},{"year":2016,"month":3,"date":1},{"year":2016,"month":4,"date":1},{"year":2016,"month":5,"date":1},{"year":2016,"month":6,"date":1}], "tickCount": 12, "labelOverlap": false, "labelExpr": "month(datum.value)==1?['Feb.','2016']:month(datum.value)==7?'Aug':timeFormat(datum.value,'%B')", "title": "Date of assessment"}},
            "y": {"datum": 19.9, "type": "quantitative", "scale": {"domain": [0,23], "nice": false, "zero": false}, "axis": {"values": [0,6,12,18], "tickCount": 12, "labelOverlap": false, "title": null}},
            "y2": {"datum": 0}}},
          {"data": {"name": "series"}, "transform": [{"filter": "datum.m=='D'&&datum.r=='M'"}, {"fold": ["N","R","L"], "as": ["prior","value"]}], "mark": {"type": "line", "strokeWidth": 3, "strokeJoin": "round"}, "encoding": {
            "x": {"field": "d", "type": "temporal"},
            "y": {"field": "value", "type": "quantitative"},
            "color": {"field": "prior", "type": "nominal", "scale": {"domain": ["N","R","L"], "range": ["#1b9e77","#7e2dd2","#d95f02"]}, "legend": {"title": "Choice of prior:", "orient": "none", "legendX": 80, "legendY": 890, "labelExpr": "datum.label=='N'?'Non−informative':datum.label=='R'?'Regional':'Local'"}}}},
          {"data": {"name": "refs"}, "transform": [{"filter": "datum.m=='D'&&datum.r=='M'"}], "mark": {"type": "rule", "color": "black", "strokeWidth": 1.5, "strokeDash": [6,4]}, "encoding": {"y": {"field": "v", "type": "quantitative"}}},
          {"data": {"name": "events"}, "transform": [{"filter": "datum.r=='M'"}], "mark": {"type": "point", "shape": "M-1,-0.7Q-1,-1 -0.7,-1L0.7,-1Q1,-1 1,-0.7L1,0.7Q1,1 0.7,1L-0.7,1Q-1,1 -1,0.7Z", "size": 324, "filled": true, "fill": "white", "stroke": "black", "strokeWidth": 1, "opacity": 1}, "encoding": {"x": {"field": "d", "type": "temporal"}, "y": {"datum": 19.9}}},
          {"data": {"name": "events"}, "transform": [{"filter": "datum.r=='M'"}], "mark": {"type": "text", "fontSize": 12.5, "color": "black"}, "encoding": {"x": {"field": "d", "type": "temporal"}, "y": {"datum": 19.9}, "text": {"field": "label"}}}
        ]},
        {"title": "Saint−Martin", "width": 211, "height": 140, "layer": [
          {"data": {"name": "events"}, "transform": [{"filter": "datum.r=='S'"}], "mark": {"type": "rule", "color": "#9e9e9e", "strokeWidth": 1.5}, "encoding": {
            "x": {"field": "d", "type": "temporal", "scale": {"domain": [{"year":2016,"month":1,"date":31},{"year":2016,"month":8,"date":1}], "nice": false}, "axis": {"values": [{"year":2016,"month":2,"date":1},{"year":2016,"month":3,"date":1},{"year":2016,"month":4,"date":1},{"year":2016,"month":5,"date":1},{"year":2016,"month":6,"date":1},{"year":2016,"month":7,"date":1},{"year":2016,"month":8,"date":1}], "tickCount": 12, "labelOverlap": false, "labelExpr": "month(datum.value)==1?['Feb.','2016']:month(datum.value)==7?'Aug':timeFormat(datum.value,'%B')", "title": null}},
            "y": {"datum": 19.9, "type": "quantitative", "scale": {"domain": [0,23], "nice": false, "zero": false}, "axis": {"values": [0,6,12,18], "tickCount": 12, "labelOverlap": false, "title": null}},
            "y2": {"datum": 0}}},
          {"data": {"name": "series"}, "transform": [{"filter": "datum.m=='D'&&datum.r=='S'"}, {"fold": ["N","R","L"], "as": ["prior","value"]}], "mark": {"type": "line", "strokeWidth": 3, "strokeJoin": "round"}, "encoding": {
            "x": {"field": "d", "type": "temporal"},
            "y": {"field": "value", "type": "quantitative"},
            "color": {"field": "prior", "type": "nominal", "scale": {"domain": ["N","R","L"], "range": ["#1b9e77","#7e2dd2","#d95f02"]}, "legend": {"title": "Choice of prior:", "orient": "none", "legendX": 80, "legendY": 890, "labelExpr": "datum.label=='N'?'Non−informative':datum.label=='R'?'Regional':'Local'"}}}},
          {"data": {"name": "refs"}, "transform": [{"filter": "datum.m=='D'&&datum.r=='S'"}], "mark": {"type": "rule", "color": "black", "strokeWidth": 1.5, "strokeDash": [6,4]}, "encoding": {"y": {"field": "v", "type": "quantitative"}}},
          {"data": {"name": "events"}, "transform": [{"filter": "datum.r=='S'"}], "mark": {"type": "point", "shape": "M-1,-0.7Q-1,-1 -0.7,-1L0.7,-1Q1,-1 1,-0.7L1,0.7Q1,1 0.7,1L-0.7,1Q-1,1 -1,0.7Z", "size": 324, "filled": true, "fill": "white", "stroke": "black", "strokeWidth": 1, "opacity": 1}, "encoding": {"x": {"field": "d", "type": "temporal"}, "y": {"datum": 19.9}}},
          {"data": {"name": "events"}, "transform": [{"filter": "datum.r=='S'"}], "mark": {"type": "text", "fontSize": 12.5, "color": "black"}, "encoding": {"x": {"field": "d", "type": "temporal"}, "y": {"datum": 19.9}, "text": {"field": "label"}}}
        ]}
      ]
    }
  ],
  "config": {
    "font": "Liberation Sans",
    "view": {"stroke": "black", "strokeWidth": 1.2},
    "title": {"fontSize": 15, "fontWeight": "normal", "color": "black", "frame": "group", "offset": 7},
    "axis": {"grid": false, "domain": false, "labelColor": "#4d4d4d", "labelFontSize": 12.5, "tickColor": "#333333", "tickSize": 4, "labelPadding": 2, "labelFlush": false, "labelOverlap": false, "titleFontWeight": "normal", "titleFontSize": 14, "titleColor": "black"},
    "axisX": {"labelLineHeight": 14, "titlePadding": 4},
    "axisY": {"titleX": -52, "titleLineHeight": 16},
    "legend": {"direction": "horizontal", "titleOrient": "left", "titleFontStyle": "italic", "titleFontWeight": "normal", "titleFontSize": 14, "titleColor": "black", "labelFontSize": 14, "labelColor": "black", "symbolType": "stroke", "symbolStrokeWidth": 3, "symbolSize": 1200, "columnPadding": 9, "labelOffset": 9, "titlePadding": 16}
  }
}
